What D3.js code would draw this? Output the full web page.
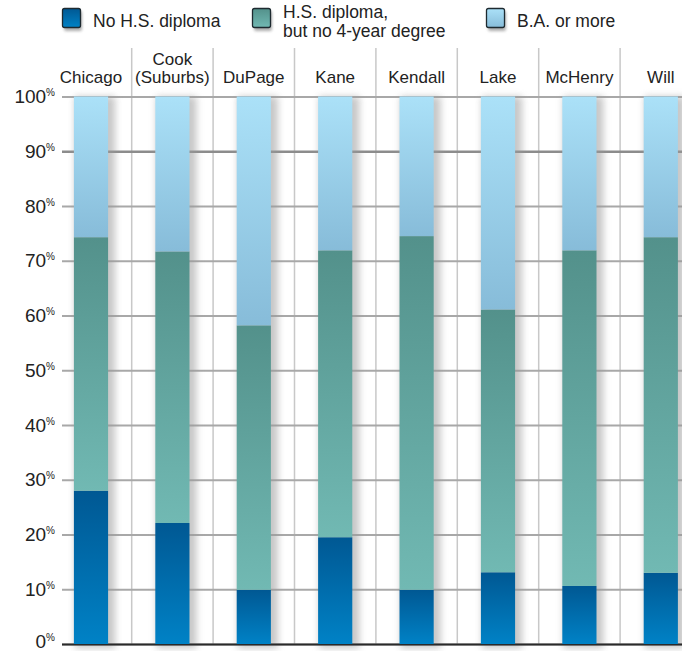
<!DOCTYPE html>
<html>
<head>
<meta charset="utf-8">
<script src="https://cdn.jsdelivr.net/npm/d3@7"></script>
<style>
  html, body { margin: 0; padding: 0; background: #fff; }
  svg { display: block; font-family: "Liberation Sans", Arial, sans-serif; }
</style>
</head>
<body>
<svg id="chart" width="682" height="651"></svg>
<script>
// Educational attainment by county, share of adults (%)
const categories = ["Chicago", "Cook (Suburbs)", "DuPage", "Kane", "Kendall", "Lake", "McHenry", "Will"];
const categoryLines = [["Chicago"], ["Cook", "(Suburbs)"], ["DuPage"], ["Kane"], ["Kendall"], ["Lake"], ["McHenry"], ["Will"]];
const noDiploma    = [28.0, 22.1, 9.9, 19.5, 9.9, 13.1, 10.6, 13.0];
const diplomaNoBA  = [46.3, 49.6, 48.3, 52.4, 64.6, 48.0, 61.3, 61.3];
const baOrMore     = [25.7, 28.3, 41.8, 28.1, 25.5, 38.9, 28.1, 25.7];
const seriesNames  = ["No H.S. diploma", "H.S. diploma,\nbut no 4-year degree", "B.A. or more"];
const tickValues   = [0, 10, 20, 30, 40, 50, 60, 70, 80, 90, 100];
const tickLabels   = ["0", "10", "20", "30", "40", "50", "60", "70", "80", "90", "100"];

const svg = d3.select("#chart");
const defs = svg.append("defs");

// vertical gradients, one per series (top colour -> bottom colour)
const gradStops = [
  ["#005893", "#0082c6"],
  ["#53918b", "#71b9b3"],
  ["#abe1f8", "#87bcd9"]
];
gradStops.forEach((s, i) => {
  const g = defs.append("linearGradient").attr("id", "grad" + i)
    .attr("x1", 0).attr("y1", 0).attr("x2", 0).attr("y2", 1);
  g.append("stop").attr("offset", "0%").attr("stop-color", s[0]);
  g.append("stop").attr("offset", "100%").attr("stop-color", s[1]);
});
const blur = defs.append("filter").attr("id", "shadow")
  .attr("x", "-50%").attr("y", "-10%").attr("width", "200%").attr("height", "120%");
blur.append("feGaussianBlur").attr("stdDeviation", 3.5);
const blurSmall = defs.append("filter").attr("id", "shadowSmall")
  .attr("x", "-50%").attr("y", "-50%").attr("width", "200%").attr("height", "200%");
blurSmall.append("feGaussianBlur").attr("stdDeviation", 1.8);

const plotLeft = 62, plotRight = 682;
const y = d3.scaleLinear().domain([0, 100]).range([644, 96.5]);
const x = d3.scaleBand().domain(categories).range([50.3, 701.5]).padding(0);
const barW = x.bandwidth() * 0.42;

// column separators
svg.append("g").selectAll("line")
  .data(categories.slice(1))
  .join("line")
  .attr("x1", d => x(d)).attr("x2", d => x(d))
  .attr("y1", 48).attr("y2", y(0))
  .attr("stroke", "#c8c8c8").attr("stroke-width", 1.5);

// horizontal grid + tick labels
const axis = d3.axisLeft(y)
  .tickValues(tickValues)
  .tickSize(-(plotRight - plotLeft))
  .tickPadding(8)
  .tickFormat("");
const gAxis = svg.append("g")
  .attr("transform", `translate(${plotLeft},0)`)
  .call(axis);
gAxis.select(".domain").remove();
gAxis.selectAll(".tick line")
  .attr("stroke", d => d === 90 ? "#8c8c8c" : "#a8a8a8")
  .attr("stroke-width", d => d === 90 ? 2.6 : 1.8);
gAxis.selectAll(".tick text").each(function(d, i) {
  const t = d3.select(this)
    .attr("x", -7).attr("dy", null).attr("y", d === 0 ? 3 : 6)
    .attr("text-anchor", "end")
    .attr("fill", "#222")
    .style("font-size", "19px");
  t.append("tspan").text(tickLabels[i]);
  t.append("tspan").text("%").style("font-size", "10px").attr("dy", -7);
});

// stacked data
const keys = ["a", "b", "c"];
const rows = categories.map((c, i) => ({ cat: c, a: noDiploma[i], b: diplomaNoBA[i], c: baOrMore[i] }));
const stacked = d3.stack().keys(keys)(rows);

// bar shadows
svg.append("g").selectAll("rect")
  .data(rows)
  .join("rect")
  .attr("x", d => x(d.cat) + (x.bandwidth() - barW) / 2 + 1)
  .attr("y", y(100))
  .attr("width", barW + 6)
  .attr("height", y(0) - y(100) + 4)
  .attr("fill", "#9a9a9a")
  .attr("opacity", 0.55)
  .attr("filter", "url(#shadow)");

// baseline
svg.append("line")
  .attr("x1", plotLeft).attr("x2", plotRight)
  .attr("y1", y(0) + 0.5).attr("y2", y(0) + 0.5)
  .attr("stroke", "#2a2a2a").attr("stroke-width", 2);

// bars
svg.append("g").selectAll("g")
  .data(stacked)
  .join("g")
  .attr("fill", (d, i) => `url(#grad${i})`)
  .selectAll("rect")
  .data(d => d)
  .join("rect")
  .attr("x", d => x(d.data.cat) + (x.bandwidth() - barW) / 2)
  .attr("y", d => y(d[1]))
  .attr("width", barW)
  .attr("height", d => y(d[0]) - y(d[1]));

// category labels, one text per line
const labelGroups = svg.append("g").selectAll("g")
  .data(categories)
  .join("g");
labelGroups.each(function(d, i) {
  const lines = categoryLines[i];
  d3.select(this).selectAll("text")
    .data(lines)
    .join("text")
    .attr("x", x(d) + x.bandwidth() / 2)
    .attr("y", (ln, j) => 83 - (lines.length - 1 - j) * 18)
    .attr("text-anchor", "middle")
    .attr("fill", "#222")
    .style("font-size", "17px")
    .text(ln => ln);
});

// legend
const legendX = [62, 252, 486];
const legend = svg.append("g").selectAll("g")
  .data(seriesNames)
  .join("g")
  .attr("transform", (d, i) => `translate(${legendX[i]},8)`);
legend.append("rect")
  .attr("x", 2).attr("y", 3).attr("width", 18).attr("height", 20)
  .attr("rx", 2).attr("fill", "#777").attr("opacity", 0.6)
  .attr("filter", "url(#shadowSmall)");
legend.append("rect")
  .attr("x", 0.5).attr("y", 0.5).attr("width", 18).attr("height", 19)
  .attr("rx", 2)
  .attr("fill", (d, i) => `url(#grad${i})`)
  .attr("stroke", "#1e2a30").attr("stroke-width", 1.3);
legend.each(function(d) {
  const lines = d.split("\n");
  d3.select(this).selectAll("text")
    .data(lines)
    .join("text")
    .attr("x", 31)
    .attr("y", (ln, j) => lines.length > 1 ? 9.5 + j * 19.5 : 19)
    .attr("fill", "#222")
    .style("font-size", "17.5px")
    .text(ln => ln);
});
</script>
</body>
</html>
